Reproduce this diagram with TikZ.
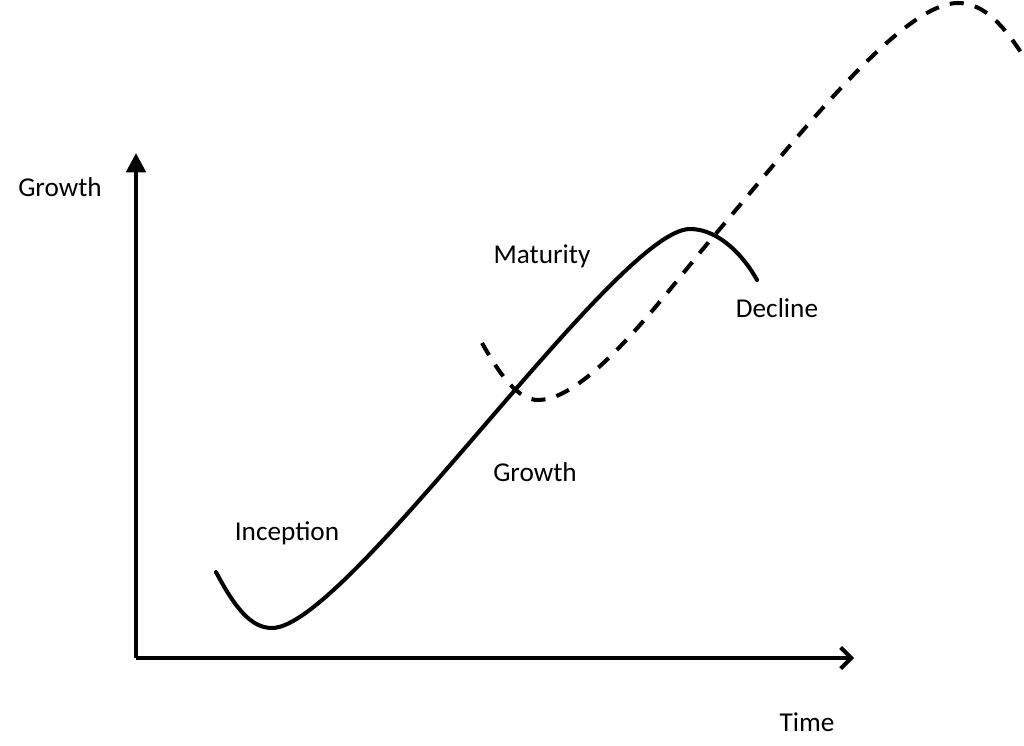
\documentclass[tikz,border=0pt]{standalone}
\usepackage{fontspec}
\setmainfont{Carlito}
\usetikzlibrary{arrows.meta}
\begin{document}
\begin{tikzpicture}[x=0.02cm,y=-0.02cm,
  lbl/.style={font=\fontsize{15.5}{18}\selectfont, inner sep=0pt},
  axis/.style={line width=2.3pt},
  curve/.style={line width=2.3pt, line cap=round},
  dcurve/.style={line width=2.3pt, dash pattern=on 8pt off 6.5pt}]
\useasboundingbox (0,0) rectangle (1024,746);
\coordinate (o) at (136,658);
\coordinate (ytip) at (136,153);
\coordinate (xtip) at (854,658);
\draw[axis, -{Triangle[length=11pt,width=11pt]}] (o) -- (ytip);
\draw[axis, -{Straight Barb[length=6pt,width=12pt,line width=2.3pt]}] (o) -- (xtip);
% life cycle curve
\coordinate (s0) at (216,572);
\coordinate (s1) at (272,628);
\coordinate (s2) at (690,229);
\coordinate (s3) at (757,280);
\draw[curve] (s0) .. controls (236,610) and (252,628) .. (s1)
  .. controls (347,628) and (617,229) .. (s2)
  .. controls (720,229) and (745,258) .. (s3);
% renewal curve
\coordinate (d0) at (482,343);
\coordinate (d1) at (538,400);
\coordinate (d2) at (713,237);
\coordinate (d3) at (958,3);
\coordinate (d4) at (1022,54);
\draw[dcurve] (d0) .. controls (500,375) and (518,400) .. (d1)
  .. controls (590,400) and (670,287) .. (d2)
  .. controls (790,147) and (900,3) .. (d3)
  .. controls (985,3) and (1005,28) .. (d4);
\node[lbl] (ylab) at (60,187) {Growth};
\node[lbl] (mat) at (542,256) {Maturity};
\node[lbl] (dec) at (777,308) {Decline};
\node[lbl] (gro) at (535,472) {Growth};
\node[lbl] (inc) at (287,533) {Inception};
\node[lbl] (xlab) at (807,722) {Time};
\end{tikzpicture}
\end{document}
